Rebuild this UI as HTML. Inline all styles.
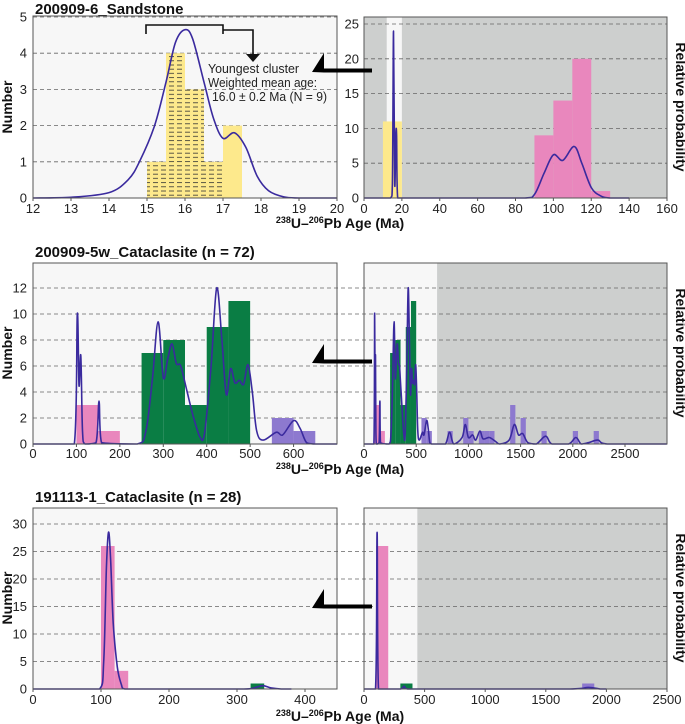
<!DOCTYPE html>
<html><head><meta charset="utf-8">
<style>
html,body{margin:0;padding:0;background:#fff;}
svg{display:block;font-family:"Liberation Sans",Arial,sans-serif;}
</style></head>
<body>
<svg id="fig" width="685" height="724" viewBox="0 0 685 724">
<defs>
<pattern id="hatch" width="8" height="4.2" patternUnits="userSpaceOnUse">
<rect width="8" height="4.2" fill="#fde98c"/>
<line x1="1" y1="2" x2="6" y2="2" stroke="#333" stroke-width="0.8"/>
</pattern>
</defs>
</svg>
<script>
// ---------- DATA ----------
const p1lBinStart=[15,15.5,16,16.5,17];
const p1lBinEnd=[15.5,16,16.5,17,17.5];
const p1lCounts=[1,4,3,1,2];
const p1lHatched=[1,1,1,1,0];
const p1lCurveX=[12,13,14,14.5,14.8,15.2,15.5,15.75,16.0,16.2,16.5,16.75,17.0,17.3,17.6,17.9,18.2,18.6,19,20];
const p1lCurveY=[0,0.02,0.15,0.5,1.0,2,3.2,4.3,4.65,4.4,3.2,2.2,1.65,1.8,1.4,0.6,0.2,0.03,0,0];
const p1rBinStart=[10,90,100,110,120];
const p1rBinEnd=[20,100,110,120,130];
const p1rCounts=[11,9,14,20,1];
const p1rColors=["y","p","p","p","p"];
const p1rCurveX=[0,14,15,15.6,16.2,16.8,17.2,17.8,85,90,95,100,105,111,115,120,125,130,140];
const p1rCurveY=[0,0,2,24,2,9,9,0,0,0.5,3.5,6.2,5.4,7.4,5,1.5,0.3,0,0];
const p2BinStart=[100,150,250,300,350,400,450,550,600];
const p2BinEnd=[150,200,300,350,400,450,500,600,650];
const p2Counts=[3,1,7,8,3,9,11,2,1];
const p2Colors=["p","p","g","g","g","g","g","u","u"];
const p2CurveX=[0,95,102,106,110,114,120,145,152,158,240,260,275,288,300,310,320,330,340,355,370,385,395,410,423,435,445,455,465,475,485,495,505,515,530,560,575,600,615,630,650,700];
const p2CurveY=[0,0,10,4.5,6.8,1,0,0.1,3.3,0.1,0,1,5,9.4,5.1,6.5,7.7,6.2,6.0,4.0,2,0.5,0.8,6,12,8,3.8,5.8,4.7,4.9,4.6,6.1,4,1,0.3,0.9,0.7,1.8,1.2,0.1,0,0];
const p2rExtraStart=[800,950,1000,1100,1150,1200,1400,1500,1700,2000,2200];
const p2rExtraEnd=[850,1000,1050,1150,1200,1250,1450,1550,1750,2050,2250];
const p2rExtraCounts=[1,2,1,1,1,1,3,2,1,1,1];
const p2rTailX=[780,820,860,940,970,1000,1040,1070,1110,1140,1200,1260,1300,1390,1440,1480,1520,1570,1650,1740,1800,1960,2030,2080,2150,2240,2330,2900];
const p2rTailY=[0,0.9,0,0.5,1.5,0.5,0.7,0.3,1,0.4,0.5,0.2,0,0.3,1.5,0.7,0.8,0.1,0,0.6,0,0,0.5,0,0.1,0.3,0,0];
const p3lBinStart=[100,120,320];
const p3lBinEnd=[120,140,340];
const p3lCounts=[26,3.3,1];
const p3lColors=["p","p","g"];
const p3lCurveX=[0,98,104,108,111,114,118,124,130,135,310,325,338,350,365,380];
const p3lCurveY=[0,0,5,22,28.5,24,12,4,0.8,0,0,0.2,0.6,0.2,0,0];
const p3rBinStart=[100,300,1800];
const p3rBinEnd=[200,400,1900];
const p3rCounts=[26,1,1];
const p3rColors=["p","g","u"];
const p3rCurveX=[0,95,108,120,300,330,360,1700,1850,1950,2000];
const p3rCurveY=[0,0,28.5,0,0,0.5,0,0,0.3,0,0];

const p1lXTicks=[12,13,14,15,16,17,18,19,20];
const p1lYTicks=[0,1,2,3,4,5];
const p1rXTicks=[0,20,40,60,80,100,120,140,160];
const p1rYTicks=[0,5,10,15,20,25];
const p2lXTicks=[0,100,200,300,400,500,600];
const p2YTicks=[0,2,4,6,8,10,12];
const p2rXTicks=[0,500,1000,1500,2000,2500];
const p3lXTicks=[0,100,200,300,400];
const p3YTicks=[0,5,10,15,20,25,30];
const p3rXTicks=[0,500,1000,1500,2000,2500];

// ---------- DRAWING ----------
const svg=document.getElementById('fig');
const NS='http://www.w3.org/2000/svg';
const COL={y:"#fde98c",p:"#e987bd",g:"#0a7d44",u:"#8d79cf"};
function mk(tag,attrs,parent){const e=document.createElementNS(NS,tag);for(const k in attrs)e.setAttribute(k,attrs[k]);(parent||svg).appendChild(e);return e;}
function scale(d0,d1,r0,r1){return v=>r0+(v-d0)/(d1-d0)*(r1-r0);}

function frameBg(x0,x1,y0,y1,fill,name){
  const r=mk('rect',{x:x0,y:y0,width:x1-x0,height:y1-y0,fill:fill});
  
  
}
function frame(x0,x1,y0,y1,name){
  const r=mk('rect',{x:x0,y:y0,width:x1-x0,height:y1-y0,fill:'none',stroke:'#555','stroke-width':1});
  
  
}
function grid(ys,x0,x1,yS,name){
  ys.forEach(v=>{if(v===0)return;
    const l=mk('line',{x1:x0,x2:x1,y1:yS(v),y2:yS(v),stroke:'#666','stroke-width':0.8,'stroke-dasharray':'4,3'});
    
    
  });
}
function bars(starts,ends,counts,colors,xS,yS,name){
  for(let i=0;i<counts.length;i++){
    const x=xS(starts[i]),w=xS(ends[i])-x,y=yS(counts[i]);
    const r=mk('rect',{x:x,y:y,width:w,height:yS(0)-y,fill:colors[i]});
    
    
  }
}
function curve(xs,ys,xS,yS,name,xmax){
  const P=[];
  for(let i=0;i<xs.length;i++){P.push([xS(Math.min(xs[i],xmax)),yS(ys[i])]);}
  const base=yS(0);
  let d='M'+P[0][0].toFixed(1)+','+P[0][1].toFixed(1);
  const t=0.5/3;
  for(let i=0;i<P.length-1;i++){
    const p0=P[Math.max(i-1,0)],p1=P[i],p2=P[i+1],p3=P[Math.min(i+2,P.length-1)];
    let c1x=p1[0]+(p2[0]-p0[0])*t, c1y=p1[1]+(p2[1]-p0[1])*t;
    let c2x=p2[0]-(p3[0]-p1[0])*t, c2y=p2[1]-(p3[1]-p1[1])*t;
    c1x=Math.min(Math.max(c1x,p1[0]),p2[0]); c2x=Math.min(Math.max(c2x,p1[0]),p2[0]);
    c1y=Math.min(c1y,base); c2y=Math.min(c2y,base);
    d+=`C${c1x.toFixed(1)},${c1y.toFixed(1)} ${c2x.toFixed(1)},${c2y.toFixed(1)} ${p2[0].toFixed(1)},${p2[1].toFixed(1)}`;
  }
  const p=mk('path',{d:d,fill:'none',stroke:'#3a2a9e','stroke-width':1.6,'stroke-linejoin':'round'});
  
  
}
function xTicks(ticks,xS,yBase,labY,name){
  ticks.forEach(v=>{
    mk('line',{x1:xS(v),x2:xS(v),y1:yBase,y2:yBase+3,stroke:'#555'});
    const t=mk('text',{x:xS(v),y:labY,'font-size':13,'text-anchor':'middle',fill:'#222'});
    t.textContent=v;
    
    
  });
}
function yTicks(ticks,yS,x,name){
  ticks.forEach(v=>{
    const t=mk('text',{x:x,y:yS(v)+4.5,'font-size':13,'text-anchor':'end',fill:'#222'});
    t.textContent=v;
    
    
  });
}
function text(str,x,y,attrs,name){
  const t=mk('text',Object.assign({x:x,y:y,fill:'#111'},attrs));
  t.textContent=str;
  
  
  return t;
}
function xLabel(y){
  const t=mk('text',{x:340,y:y,'font-size':14,'font-weight':'bold','text-anchor':'middle',fill:'#111'});
  t.innerHTML='<tspan font-size="9" dy="-5">238</tspan><tspan dy="5">U–</tspan><tspan font-size="9" dy="-5">206</tspan><tspan dy="5">Pb Age (Ma)</tspan>';
  
  
}
function vLabel(str,x,yc,rot,name){
  const t=mk('text',{x:0,y:0,'font-size':14,'font-weight':'bold','text-anchor':'middle',fill:'#111',transform:`translate(${x},${yc}) rotate(${rot})`});
  t.textContent=str;
  
  
}
function bigArrow(yLine,name){
  const p=mk('path',{d:`M312,${yLine+2} L324,${yLine-17} L324,${yLine-1.5} L372,${yLine-1.5} L372,${yLine+2.5} L324,${yLine+2.5} Z`,fill:'#000'});
  
  
}

const LX0=33,LX1=337,RX0=364,RX1=667;

// ===== Row 1 =====
(function(){
  const yT=16,yB=198;
  const xl=scale(12,20,LX0,LX1), yl=scale(0,5,yB,yT+1);
  frameBg(LX0,LX1,yT,yB,'#f7f7f7','plot1-left-bg');
  grid(p1lYTicks,LX0,LX1,yl,'gridline');
  for(let i=0;i<p1lCounts.length;i++){
    const x=xl(p1lBinStart[i]),w=xl(p1lBinEnd[i])-x,y=yl(p1lCounts[i]);
    const r=mk('rect',{x:x,y:y,width:w,height:yB-y,fill:p1lHatched[i]?'url(#hatch)':COL.y});
    
    
  }
  curve(p1lCurveX,p1lCurveY,xl,yl,'kde-curve-youngest',20);
  frame(LX0,LX1,yT,yB,'plot1-left-frame');
  xTicks(p1lXTicks,xl,yB,213,'x-tick-label');
  yTicks(p1lYTicks,yl,27,'y-tick-label');

  const xr=scale(0,160,RX0,RX1), yr=scale(0,25,yB,24);
  frameBg(RX0,RX1,yT+1,yB,'#cdcfce','plot1-right-bg');
  frameBg(xr(12),xr(20),yT+1,yB,'#f7f7f7','youngest-window');
  grid(p1rYTicks,RX0,RX1,yr,'gridline');
  bars(p1rBinStart,p1rBinEnd,p1rCounts,p1rColors.map(c=>COL[c]),xr,yr,'bar-sandstone');
  curve(p1rCurveX,p1rCurveY,xr,yr,'kde-curve-sandstone',160);
  frame(RX0,RX1,yT+1,yB,'plot1-right-frame');
  xTicks(p1rXTicks,xr,yB,213,'x-tick-label');
  yTicks(p1rYTicks,yr,359,'y-tick-label');

  text('200909-6_Sandstone',35,14,{'font-size':15,'font-weight':'bold'},'panel-title');
  const b=mk('path',{d:'M146,34 L146,25 L223,25 L223,34 M223,30 L253,30 L253,54',fill:'none',stroke:'#111','stroke-width':1.6});
  
  
  const ah=mk('path',{d:'M246,54 L260,54 L253,62 Z',fill:'#111'});
  
  
  text('Youngest cluster',208,73,{'font-size':13,fill:'#222',textLength:91,lengthAdjust:'spacingAndGlyphs'},'annotation-line');
  text('Weighted mean age:',208,87,{'font-size':13,fill:'#222',textLength:109,lengthAdjust:'spacingAndGlyphs'},'annotation-line');
  text('16.0 ± 0.2 Ma (N = 9)',212,101,{'font-size':13,fill:'#222',textLength:115,lengthAdjust:'spacingAndGlyphs'},'annotation-line');
  bigArrow(70,'zoom-arrow');
  xLabel(228);
  vLabel('Number',12,107,-90,'y-axis-title');
  vLabel('Relative probability',676,107,90,'y2-axis-title');
})();

// ===== Row 2 =====
(function(){
  const yT=263,yB=444;
  const xl=scale(0,700,LX0,LX1), y=scale(0,12,yB,288);
  frameBg(LX0,LX1,yT,yB,'#f7f7f7','plot2-left-bg');
  const xr=scale(0,2500,RX0,625);
  frameBg(RX0,RX1,yT,yB,'#cdcfce','plot2-right-bg');
  frameBg(RX0,xr(700),yT,yB,'#f7f7f7','plot2-right-window');
  grid(p2YTicks,LX0,RX1,y,'gridline');
  bars(p2BinStart,p2BinEnd,p2Counts,p2Colors.map(c=>COL[c]),xl,y,'bar-cataclasite-5w');
  curve(p2CurveX,p2CurveY,xl,y,'kde-curve-5w',700);
  frame(LX0,LX1,yT,yB,'plot2-left-frame');
  xTicks(p2lXTicks,xl,yB,458,'x-tick-label');
  yTicks(p2YTicks,y,27,'y-tick-label');

  bars(p2BinStart,p2BinEnd,p2Counts,p2Colors.map(c=>COL[c]),xr,y,'bar-5w-full');
  bars(p2rExtraStart,p2rExtraEnd,p2rExtraCounts,p2rExtraStart.map(()=>COL.u),xr,y,'bar-5w-old');
  curve(p2CurveX.concat(p2rTailX),p2CurveY.concat(p2rTailY),xr,y,'kde-curve-5w-full',2900);
  frame(RX0,RX1,yT,yB,'plot2-right-frame');
  xTicks(p2rXTicks,xr,yB,458,'x-tick-label');

  text('200909-5w_Cataclasite (n = 72)',35,257,{'font-size':15,'font-weight':'bold'},'panel-title');
  bigArrow(361,'zoom-arrow');
  xLabel(474);
  vLabel('Number',12,353,-90,'y-axis-title');
  vLabel('Relative probability',676,353,90,'y2-axis-title');
})();

// ===== Row 3 =====
(function(){
  const yT=508,yB=689;
  const xl=scale(0,400,LX0,305), y=scale(0,30,yB,524);
  frameBg(LX0,LX1,yT,yB,'#f7f7f7','plot3-left-bg');
  const xr=scale(0,2500,RX0,RX1);
  frameBg(RX0,RX1,yT,yB,'#cdcfce','plot3-right-bg');
  frameBg(RX0,xr(440),yT,yB,'#f7f7f7','plot3-right-window');
  grid(p3YTicks,LX0,RX1,y,'gridline');
  bars(p3lBinStart,p3lBinEnd,p3lCounts,p3lColors.map(c=>COL[c]),xl,y,'bar-cataclasite-191113');
  curve(p3lCurveX,p3lCurveY,xl,y,'kde-curve-191113',445);
  frame(LX0,LX1,yT,yB,'plot3-left-frame');
  xTicks(p3lXTicks,xl,yB,704,'x-tick-label');
  yTicks(p3YTicks,y,27,'y-tick-label');

  bars(p3rBinStart,p3rBinEnd,p3rCounts,p3rColors.map(c=>COL[c]),xr,y,'bar-191113-full');
  curve(p3rCurveX,p3rCurveY,xr,y,'kde-curve-191113-full',2500);
  frame(RX0,RX1,yT,yB,'plot3-right-frame');
  xTicks(p3rXTicks,xr,yB,704,'x-tick-label');

  text('191113-1_Cataclasite (n = 28)',35,502,{'font-size':15,'font-weight':'bold'},'panel-title');
  bigArrow(606,'zoom-arrow');
  xLabel(721);
  vLabel('Number',12,598,-90,'y-axis-title');
  vLabel('Relative probability',676,598,90,'y2-axis-title');
})();
</script>
</body></html>
